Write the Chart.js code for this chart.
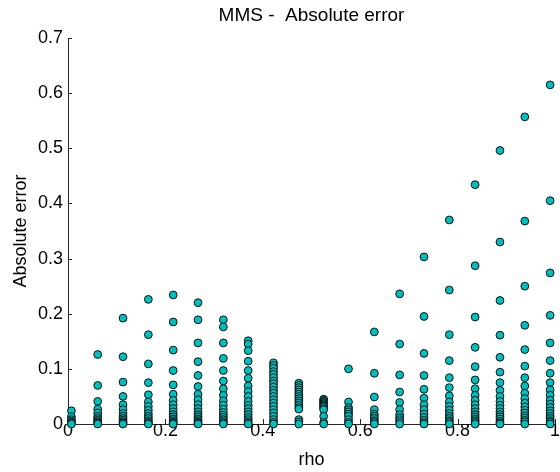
<!DOCTYPE html>
<html>
<head>
<meta charset="utf-8">
<title>MMS - Absolute error</title>
<script src="https://cdn.jsdelivr.net/npm/chart.js@4.4.0/dist/chart.umd.min.js"></script>
<style>
  html, body { margin: 0; padding: 0; background: #fff; }
  #wrap { width: 560px; height: 472px; }
</style>
</head>
<body>
<div id="wrap"><canvas id="errChart" width="560" height="472"></canvas></div>
<script>
// rho position of each column of points
const rhoValues = [0.007, 0.061, 0.113, 0.165, 0.216, 0.267, 0.319, 0.370, 0.422, 0.474,
                   0.525, 0.576, 0.629, 0.681, 0.731, 0.783, 0.836, 0.887, 0.938, 0.990];

// absolute error in each column, top to bottom
const err01 = [0.024, 0.013, 0.008, 0.005, 0.003, 0.001, 0];
const err02 = [0.126, 0.070, 0.041, 0.027, 0.020, 0.014, 0.010, 0.007, 0.004, 0.002, 0];
const err03 = [0.192, 0.122, 0.076, 0.050, 0.035, 0.026, 0.019, 0.014, 0.010, 0.007, 0.004, 0.002, 0];
const err04 = [0.226, 0.162, 0.109, 0.075, 0.053, 0.040, 0.032, 0.025, 0.019, 0.014, 0.010, 0.006, 0.003, 0.001, 0];
const err05 = [0.234, 0.185, 0.134, 0.097, 0.071, 0.054, 0.043, 0.035, 0.028, 0.022, 0.017, 0.013, 0.009, 0.006, 0.003, 0.001, 0];
const err06 = [0.220, 0.189, 0.147, 0.113, 0.088, 0.068, 0.054, 0.044, 0.035, 0.028, 0.022, 0.017, 0.013, 0.009, 0.006, 0.003, 0.001, 0];
const err07 = [0.189, 0.176, 0.147, 0.119, 0.097, 0.078, 0.064, 0.052, 0.042, 0.034, 0.027, 0.021, 0.016, 0.012, 0.008, 0.005, 0.002, 0];
const err08 = [0.151, 0.145, 0.133, 0.114, 0.097, 0.083, 0.069, 0.059, 0.050, 0.041, 0.034, 0.028, 0.022, 0.017, 0.012, 0.008, 0.004, 0.001, 0];
const err09 = [0.111, 0.106, 0.101, 0.095, 0.090, 0.084, 0.078, 0.073, 0.067, 0.061, 0.056, 0.050, 0.044, 0.038, 0.032, 0.026, 0.020, 0.014, 0.008, 0.003, 0];
const err10 = [0.074, 0.070, 0.066, 0.062, 0.058, 0.054, 0.050, 0.046, 0.042, 0.038, 0.034, 0.030, 0.027, 0.008, 0.004, 0];
const err11 = [0.045, 0.043, 0.041, 0.039, 0.037, 0.035, 0.033, 0.031, 0.028, 0.026, 0.014, 0.003, 0];
const err12 = [0.100, 0.040, 0.030, 0.026, 0.022, 0.018, 0.014, 0.008, 0.003, 0];
const err13 = [0.167, 0.092, 0.049, 0.026, 0.018, 0.014, 0.010, 0.006, 0.003, 0];
const err14 = [0.236, 0.145, 0.089, 0.058, 0.039, 0.026, 0.017, 0.012, 0.008, 0.004, 0];
const err15 = [0.303, 0.195, 0.128, 0.088, 0.063, 0.047, 0.035, 0.026, 0.018, 0.012, 0.007, 0.003, 0];
const err16 = [0.370, 0.243, 0.162, 0.115, 0.084, 0.066, 0.051, 0.040, 0.032, 0.025, 0.019, 0.014, 0.010, 0.006, 0.003, 0];
const err17 = [0.434, 0.287, 0.194, 0.139, 0.104, 0.080, 0.064, 0.052, 0.043, 0.035, 0.028, 0.022, 0.017, 0.013, 0.009, 0.006, 0.003, 0];
const err18 = [0.496, 0.330, 0.224, 0.161, 0.121, 0.094, 0.075, 0.061, 0.050, 0.041, 0.034, 0.028, 0.022, 0.017, 0.013, 0.009, 0.005, 0.002, 0];
const err19 = [0.557, 0.368, 0.250, 0.179, 0.135, 0.105, 0.084, 0.069, 0.056, 0.046, 0.038, 0.031, 0.025, 0.020, 0.015, 0.011, 0.007, 0.004, 0];
const err20 = [0.615, 0.405, 0.274, 0.197, 0.147, 0.115, 0.092, 0.075, 0.062, 0.052, 0.043, 0.036, 0.030, 0.024, 0.019, 0.014, 0.010, 0.006, 0.003, 0];

const errColumns = [err01, err02, err03, err04, err05, err06, err07, err08, err09, err10,
                    err11, err12, err13, err14, err15, err16, err17, err18, err19, err20];

// tick labels
const xTicks = [0, 0.2, 0.4, 0.6, 0.8, 1];
const yTicks = [0, 0.1, 0.2, 0.3, 0.4, 0.5, 0.6, 0.7];

// flatten into scatter points
const points = [];
errColumns.forEach((col, i) => {
  col.forEach(v => points.push({ x: rhoValues[i], y: v }));
});

const FONT = "'Liberation Sans', Arial, Helvetica, sans-serif";
const AXIS = "#262626";

// small tick marks pointing into the plot, like the original
const innerTicks = {
  id: "innerTicks",
  beforeDatasetsDraw(chart) {
    const { ctx, scales: { x, y } } = chart;
    ctx.save();
    ctx.strokeStyle = AXIS;
    ctx.lineWidth = 1;
    ctx.beginPath();
    xTicks.forEach(v => {
      const px = Math.round(x.getPixelForValue(v)) + 0.5;
      ctx.moveTo(px, y.bottom);
      ctx.lineTo(px, y.bottom - 5);
    });
    yTicks.forEach(v => {
      const py = Math.round(y.getPixelForValue(v)) + 0.5;
      ctx.moveTo(x.left, py);
      ctx.lineTo(x.left + 4, py);
    });
    ctx.stroke();
    ctx.restore();
  }
};

const ctx = document.getElementById("errChart").getContext("2d");
new Chart(ctx, {
  type: "scatter",
  data: {
    datasets: [{
      label: "Absolute error",
      data: points,
      pointRadius: 3.9,
      pointBorderWidth: 1,
      pointBackgroundColor: "rgb(0, 191, 191)",
      pointBorderColor: "#111",
      clip: false
    }]
  },
  options: {
    responsive: false,
    animation: false,
    events: [],
    devicePixelRatio: 1,
    layout: { padding: { top: 0, right: 2, bottom: 0, left: 0 } },
    plugins: {
      legend: { display: false },
      tooltip: { enabled: false },
      title: {
        display: true,
        text: "MMS -  Absolute error",
        fullSize: false,
        color: "#000",
        font: { family: FONT, size: 19, weight: "normal", lineHeight: 1.2 },
        padding: { top: 4, bottom: 11.2 }
      }
    },
    scales: {
      x: {
        type: "linear",
        min: 0,
        max: 1,
        afterBuildTicks: s => { s.ticks = xTicks.map(v => ({ value: v })); },
        afterFit: s => { s.height = 48; s.paddingLeft = 0; s.paddingRight = 0; },
        grid: { display: true, drawOnChartArea: false, drawTicks: false },
        border: { display: true, color: AXIS, width: 1 },
        ticks: {
          color: "#000",
          padding: -2,
          maxRotation: 0,
          font: { family: FONT, size: 18, lineHeight: 1 },
          callback: v => String(+v.toFixed(1))
        },
        title: {
          display: true,
          text: "rho",
          color: "#000",
          font: { family: FONT, size: 18, lineHeight: 1.2 },
          padding: { top: 0, bottom: 1.2 }
        }
      },
      y: {
        type: "linear",
        min: 0,
        max: 0.7,
        afterBuildTicks: s => { s.ticks = yTicks.map(v => ({ value: v })); },
        afterFit: s => { s.width = 68; s.paddingTop = 0; s.paddingBottom = 0; },
        grid: { display: true, drawOnChartArea: false, drawTicks: false },
        border: { display: true, color: AXIS, width: 1 },
        ticks: {
          color: "#000",
          padding: 5,
          font: { family: FONT, size: 18 },
          callback: v => String(+v.toFixed(1))
        },
        title: {
          display: true,
          text: "Absolute error",
          color: "#000",
          font: { family: FONT, size: 18, lineHeight: 1.2 },
          padding: { top: 10, bottom: 0 }
        }
      }
    }
  },
  plugins: [innerTicks]
});
</script>
</body>
</html>
